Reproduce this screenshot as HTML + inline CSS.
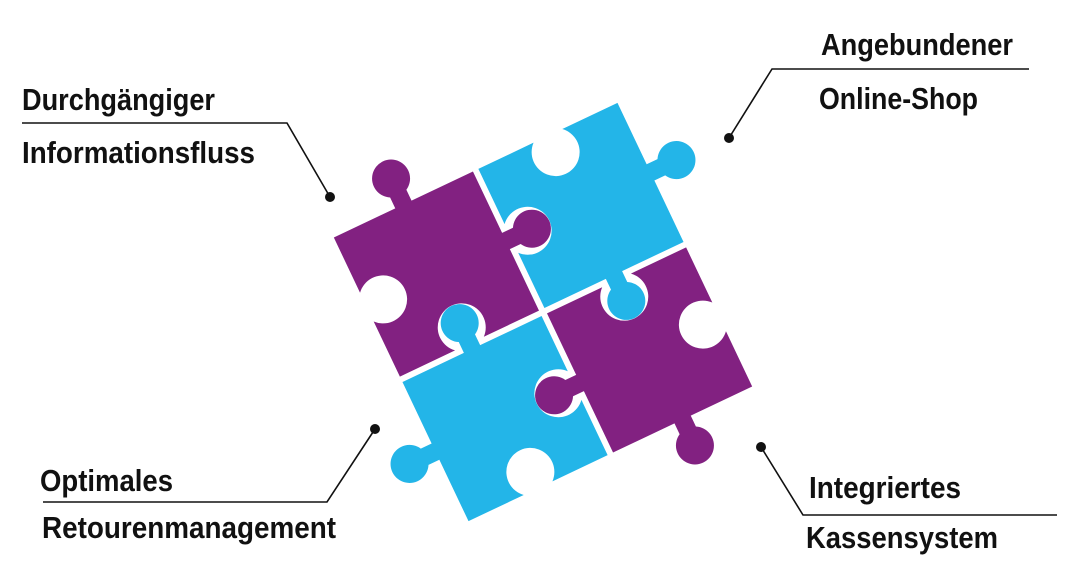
<!DOCTYPE html>
<html><head><meta charset="utf-8"><style>
html,body{margin:0;padding:0;background:#fff;width:1085px;height:585px;overflow:hidden}
text{font-family:"Liberation Sans Narrow","Liberation Sans",sans-serif;font-weight:bold;fill:#111;font-size:31px}
</style></head><body>
<svg width="1085" height="585" viewBox="0 0 1085 585" xmlns="http://www.w3.org/2000/svg">
<g transform="translate(543,312) rotate(-25.4) translate(-157,-157)">
<path fill="#822181" transform="translate(0,0)" d="M0,0 L68,0 L68,-12 A19,19 0 1 1 86,-12 L86,0 L154,0 L154,68 L166,68 A19,19 0 1 1 166,86 L154,86 L154,154 L92.9,154 A24,24 0 1 0 61.1,154 L0,154 L0,92.9 A24,24 0 1 0 0,61.1 Z"/>
<path fill="#23b5e8" transform="translate(160,0)" d="M0,0 L61.1,0 A24,24 0 1 0 92.9,0 L154,0 L154,68 L166,68 A19,19 0 1 1 166,86 L154,86 L154,154 L86,154 L86,166 A19,19 0 1 1 68,166 L68,154 L0,154 L0,92.9 A24,24 0 1 0 0,61.1 Z"/>
<path fill="#822181" transform="translate(160,160)" d="M0,0 L61.1,0 A24,24 0 1 0 92.9,0 L154,0 L154,61.1 A24,24 0 1 0 154,92.9 L154,154 L86,154 L86,166 A19,19 0 1 1 68,166 L68,154 L0,154 L0,86 L-12,86 A19,19 0 1 1 -12,68 L0,68 Z"/>
<path fill="#23b5e8" transform="translate(0,160)" d="M0,0 L68,0 L68,-12 A19,19 0 1 1 86,-12 L86,0 L154,0 L154,61.1 A24,24 0 1 0 154,92.9 L154,154 L92.9,154 A24,24 0 1 0 61.1,154 L0,154 L0,86 L-12,86 A19,19 0 1 1 -12,68 L0,68 Z"/>
</g>
<g stroke="#111" stroke-width="1.6" fill="none">
<polyline points="22,123 287,123 330,197"/>
<polyline points="1029,69 772,69 729,138"/>
<polyline points="43,502 327,502 375,429"/>
<polyline points="761,447 803,515 1057,515"/>
</g>
<g fill="#111">
<circle cx="330" cy="197" r="5"/>
<circle cx="729" cy="138" r="5"/>
<circle cx="375" cy="429" r="5"/>
<circle cx="761" cy="447" r="5"/>
</g>
<text x="22" y="110" textLength="193" lengthAdjust="spacingAndGlyphs">Durchgängiger</text>
<text x="22" y="163" textLength="233" lengthAdjust="spacingAndGlyphs">Informationsfluss</text>
<text x="821" y="55" textLength="192" lengthAdjust="spacingAndGlyphs">Angebundener</text>
<text x="819" y="109" textLength="159" lengthAdjust="spacingAndGlyphs">Online-Shop</text>
<text x="40" y="491" textLength="133" lengthAdjust="spacingAndGlyphs">Optimales</text>
<text x="42" y="538" textLength="294" lengthAdjust="spacingAndGlyphs">Retourenmanagement</text>
<text x="809" y="498" textLength="152" lengthAdjust="spacingAndGlyphs">Integriertes</text>
<text x="806" y="548" textLength="192" lengthAdjust="spacingAndGlyphs">Kassensystem</text>
</svg>
</body></html>
